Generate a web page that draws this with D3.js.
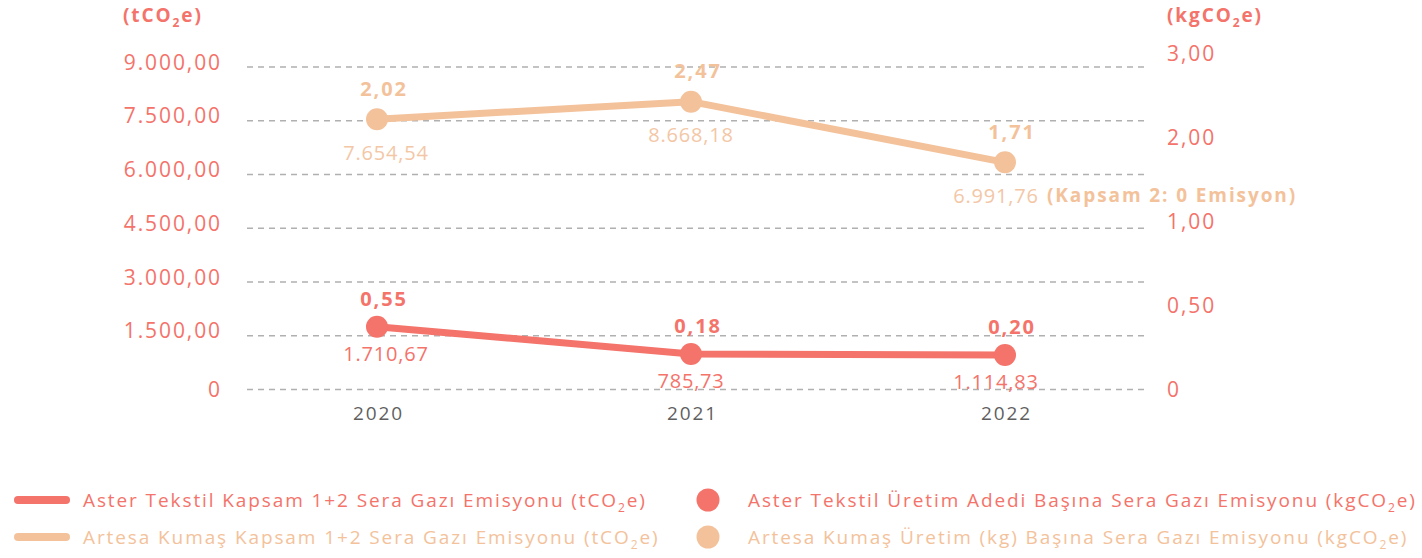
<!DOCTYPE html>
<html><head><meta charset="utf-8">
<script src="https://cdn.jsdelivr.net/npm/d3@7"></script>
<style>
html,body{margin:0;padding:0;background:#fff;}
svg text{font-family:"Open Sans",sans-serif;letter-spacing:1.9px;}
</style></head>
<body>
<svg id="chart" width="1422" height="558"></svg>
<script>
// ---- data ----
const years = ["2020", "2021", "2022"];
const leftTicks = [0, 1500, 3000, 4500, 6000, 7500, 9000];
const rightTickLabels = ["0", "0,50", "1,00", "2,00", "3,00"];
// line vertices as read against the left axis (tCO2e)
const asterLine = [1753, 991, 963];
const artesaLine = [7540, 8032, 6340];
// printed values
const asterTotal = [1710.67, 785.73, 1114.83];
const artesaTotal = [7654.54, 8668.18, 6991.76];
const asterPerUnit = [0.55, 0.18, 0.20];
const artesaPerUnit = [2.02, 2.47, 1.71];
const legendLines = ["Aster Tekstil Kapsam 1+2 Sera Gazı Emisyonu (tCO", "Artesa Kumaş Kapsam 1+2 Sera Gazı Emisyonu (tCO"];
const legendDots = ["Aster Tekstil Üretim Adedi Başına Sera Gazı Emisyonu (kgCO", "Artesa Kumaş Üretim (kg) Başına Sera Gazı Emisyonu (kgCO"];
const artesaNote = "(Kapsam 2: 0 Emisyon)";

const RED = "#F4736A", PEACH = "#F3C29B", PEACH_TXT = "#F3C7A6", GRAY = "#5f5f5f";
const FF = "'Open Sans',sans-serif";

const tr = d3.formatLocale({decimal: ",", thousands: ".", grouping: [3], currency: ["", ""]});
const f2 = tr.format(",.2f");

const svg = d3.select("#chart");
const x = d3.scalePoint().domain(years).range([377, 1005]);
const yL = d3.scaleLinear().domain([0, 9000]).range([389.5, 67]);
const yR = d3.scaleLinear().domain([0, rightTickLabels.length - 1]).range([389.5, 53.5]);

// gridlines
svg.append("g").selectAll("line").data(leftTicks).join("line")
  .attr("x1", 247).attr("x2", 1145)
  .attr("y1", d => yL(d)).attr("y2", d => yL(d))
  .attr("stroke", "#b0b0b0").attr("stroke-width", 1.3).attr("stroke-dasharray", "6,5");

// left axis
const leftAxis = d3.axisLeft(yL).tickValues(leftTicks).tickSize(0).tickPadding(0)
  .tickFormat(d => d === 0 ? "0" : f2(d));
const gL = svg.append("g").attr("transform", "translate(222,0)").call(leftAxis);
gL.select(".domain").remove();
gL.selectAll("text").attr("fill", RED).attr("font-size", 21).attr("dy", d => d === 0 ? "0.35em" : "0.1em")
  .style("font-family", FF);

// right axis
const rightAxis = d3.axisRight(yR).tickValues(d3.range(rightTickLabels.length)).tickSize(0).tickPadding(0)
  .tickFormat(i => rightTickLabels[i]);
const gR = svg.append("g").attr("transform", "translate(1167,0)").call(rightAxis);
gR.select(".domain").remove();
gR.selectAll("text").attr("fill", RED).attr("font-size", 21).style("font-family", FF);

// x axis
const xAxis = d3.axisBottom(x).tickSize(0).tickPadding(0);
const gX = svg.append("g").attr("transform", "translate(1,406)").call(xAxis);
gX.select(".domain").remove();
gX.selectAll("text").attr("fill", GRAY).attr("font-size", 19).style("font-family", FF);

// unit labels
function unitLabel(xp, pre) {
  const t = svg.append("text").attr("x", xp).attr("y", 22).attr("fill", RED)
    .attr("font-size", 19).attr("font-weight", 700);
  t.append("tspan").text(pre);
  t.append("tspan").text("2").attr("font-size", 12).attr("dy", 5);
  t.append("tspan").text("e)").attr("dy", -5);
}
unitLabel(123, "(tCO");
unitLabel(1167, "(kgCO");

// lines
const line = d3.line().x((d, i) => x(years[i])).y(d => yL(d));
function series(vals, color, totals, perUnit, txtColor, topOff, botOff) {
  svg.append("path").datum(vals).attr("d", line).attr("fill", "none")
    .attr("stroke", color).attr("stroke-width", 7).attr("stroke-linejoin", "round");
  svg.append("g").selectAll("circle").data(vals).join("circle")
    .attr("cx", (d, i) => x(years[i])).attr("cy", d => yL(d)).attr("r", 11).attr("fill", color);
  svg.append("g").selectAll("text").data(perUnit).join("text")
    .attr("x", (d, i) => x(years[i]) + 7).attr("y", (d, i) => yL(vals[i]) + topOff)
    .attr("text-anchor", "middle").attr("dominant-baseline", "middle")
    .attr("font-size", 20).attr("font-weight", 700).attr("fill", color)
    .text(d => f2(d));
  return svg.append("g").selectAll("text").data(totals).join("text")
    .attr("x", (d, i) => x(years[i]) + 9 - i * 9).attr("y", (d, i) => yL(vals[i]) + botOff)
    .attr("text-anchor", "middle").attr("dominant-baseline", "middle")
    .attr("font-size", 20).attr("fill", txtColor).style("letter-spacing", "0.8px")
    .text(d => f2(d));
}
series(asterLine, RED, asterTotal, asterPerUnit, RED, -26, 29);
series(artesaLine, PEACH, artesaTotal, artesaPerUnit, PEACH_TXT, -29, 35);

// note after last Artesa label
svg.append("text")
  .attr("x", x(years[2]) + 42).attr("y", yL(artesaLine[2]) + 35)
  .attr("dominant-baseline", "middle").attr("font-size", 19).attr("font-weight", 700)
  .attr("fill", PEACH).text(artesaNote);

// legend
const legRows = [500, 537];
const legColors = [RED, PEACH];
legendLines.forEach((t, i) => {
  svg.append("line").attr("x1", 18).attr("x2", 66).attr("y1", legRows[i]).attr("y2", legRows[i])
    .attr("stroke", legColors[i]).attr("stroke-width", 8).attr("stroke-linecap", "round");
  const tx = svg.append("text").attr("x", 83).attr("y", legRows[i] + 7).attr("font-size", 19).attr("fill", legColors[i]);
  tx.append("tspan").text(t);
  tx.append("tspan").text("2").attr("font-size", 12).attr("dy", 5);
  tx.append("tspan").text("e)").attr("dy", -5);
});
legendDots.forEach((t, i) => {
  svg.append("circle").attr("cx", 708).attr("cy", legRows[i]).attr("r", 11.5).attr("fill", legColors[i]);
  const tx = svg.append("text").attr("x", 748).attr("y", legRows[i] + 7).attr("font-size", 19).attr("fill", legColors[i]);
  tx.append("tspan").text(t);
  tx.append("tspan").text("2").attr("font-size", 12).attr("dy", 5);
  tx.append("tspan").text("e)").attr("dy", -5);
});
</script>
</body></html>
